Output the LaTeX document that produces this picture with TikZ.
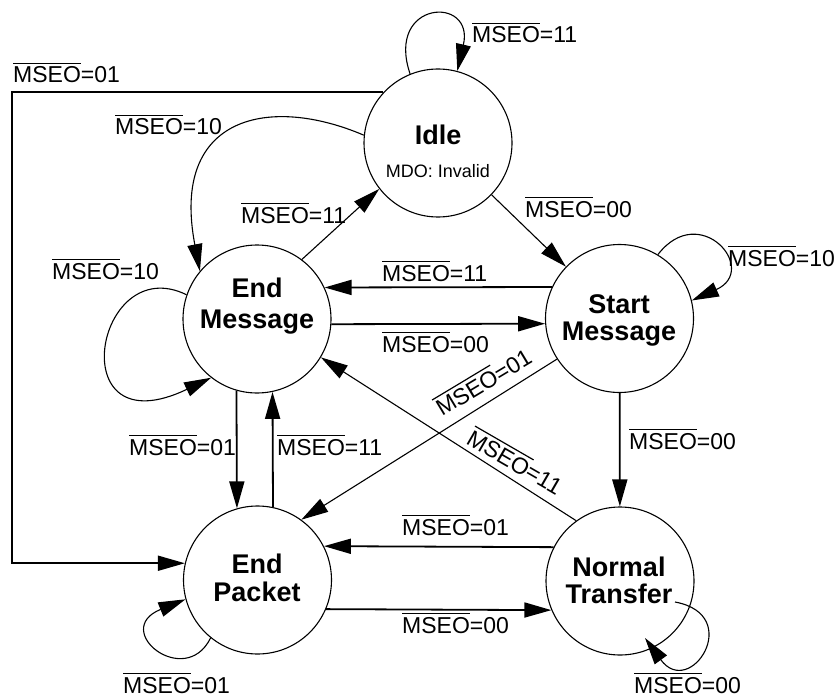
\documentclass[tikz,border=0pt]{standalone}
\usepackage{fontspec}
\setmainfont{Liberation Sans}
\usetikzlibrary{arrows.meta}
\newcommand\msbar{\setbox0\hbox{MSEO}\rlap{\rule[\dimexpr\ht0+3pt\relax]{\wd0}{1.2pt}}\box0}
\begin{document}
\begin{tikzpicture}[x=1pt,y=-1pt,
  state/.style={circle, draw, line width=1.1pt, minimum size=148pt, inner sep=0pt},
  big/.style={font=\fontsize{27}{30}\selectfont\bfseries, inner sep=0pt, anchor=base},
  small/.style={font=\fontsize{18}{20}\selectfont, inner sep=0pt, anchor=base},
  lab/.style={font=\fontsize{23}{26}\selectfont, inner sep=0pt, anchor=base west},
  edge/.style={line width=1.1pt, -{Triangle[length=27pt,width=15pt]}},
  oedge/.style={line width=1.8pt, -{Triangle[length=27pt,width=15pt]}}]
\useasboundingbox (0,0) rectangle (837,695);
% states
\node[state] (idle) at (438,143) {};
\node[state] (em) at (257,319) {};
\node[state] (sm) at (619.5,318.5) {};
\node[state] (ep) at (257.5,580) {};
\node[state] (nt) at (620,581) {};
% state texts
\node[big] (idlet) at (438,145) {Idle};
\node[small] (idled) at (438,178) {MDO: Invalid};
\node[big] (emt1) at (257,297) {End};
\node[big] (emt2) at (257,328) {Message};
\node[big] (smt1) at (619,313) {Start};
\node[big] (smt2) at (619,340) {Message};
\node[big] (ept1) at (257,573) {End};
\node[big] (ept2) at (257,601) {Packet};
\node[big] (ntt1) at (619,576) {Normal};
\node[big] (ntt2) at (619,603) {Transfer};
% self loops and curves
\draw[edge] (idle.112) .. controls (385,0) and (475,-5) .. (idle.75);
\draw[edge] (idle.174) .. controls (270,95) and (170,115) .. (em.140);
\draw[edge] (em.161) .. controls (95,250) and (60,450) .. (em.232);
\draw[edge] (sm.59) .. controls (700,200) and (760,270) .. (sm.14);
\draw[edge] (ep.231) .. controls (185,690) and (110,630) .. (ep.195);
\coordinate (nts) at (675,602);
\coordinate (nte) at (645,638);
\draw[edge] (nts) .. controls (745,615) and (690,700) .. (nte);
% straight connectors
\draw[edge] (idle) -- (sm);
\draw[edge] (em.53) -- (idle.218);
\draw[oedge] (sm.155) -- (em.25);
\draw[oedge] (em.-4) -- (sm.184);
\draw[edge] (sm.213) -- (ep.54);
\draw[edge] (nt.126) -- (em.-31);
\draw[oedge] (sm) -- (nt);
\draw[oedge] (em.254) -- (ep.106);
\draw[oedge] (ep.78) -- (em.282);
\draw[oedge] (nt.153) -- (ep.27);
\draw[oedge] (ep.-23) -- (nt.203);
\coordinate (lft) at (12,0);
\draw[oedge] (idle.137) -- (idle.137 -| lft) |- (ep.167);
% labels
\node[lab] (l1) at (472,43) {\msbar=11};
\node[lab] (l2) at (13,83) {\msbar=01};
\node[lab] (l3) at (115,135) {\msbar=10};
\node[lab] (l4) at (241,223) {\msbar=11};
\node[lab] (l5) at (52,279) {\msbar=10};
\node[lab] (l6) at (525,217) {\msbar=00};
\node[lab] (l7) at (728,266) {\msbar=10};
\node[lab] (l8) at (382,281) {\msbar=11};
\node[lab] (l9) at (382,352) {\msbar=00};
\node[lab, rotate=31] (l10) at (442,417) {\msbar=01};
\node[lab, rotate=-30] (l11) at (465,443) {\msbar=11};
\node[lab] (l12) at (629,449) {\msbar=00};
\node[lab] (l13) at (129,455) {\msbar=01};
\node[lab] (l14) at (277,455) {\msbar=11};
\node[lab] (l15) at (402,535) {\msbar=01};
\node[lab] (l16) at (402,633) {\msbar=00};
\node[lab] (l17) at (123,693) {\msbar=01};
\node[lab] (l18) at (634,693) {\msbar=00};
\end{tikzpicture}
\end{document}
